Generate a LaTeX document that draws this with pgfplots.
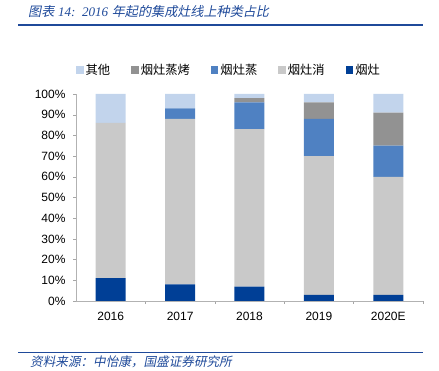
\documentclass[border=0pt]{standalone}
\usepackage{fontspec}
\setmainfont{Liberation Sans}
\newfontfamily\cjk{Noto Sans CJK SC}
\newfontfamily\cjkit{Noto Sans CJK SC}[FakeSlant=0.2]
\newfontfamily\titlelat{Liberation Serif}
\usepackage{pgfplots}
\pgfplotsset{compat=1.18}
\definecolor{cyz}{HTML}{003F96}
\definecolor{cyzx}{HTML}{C9C9C9}
\definecolor{cyzz}{HTML}{4F81C2}
\definecolor{cyzzk}{HTML}{929292}
\definecolor{cqt}{HTML}{C2D4EC}
\definecolor{titleblue}{HTML}{1F4A9A}
\begin{document}
\begin{tikzpicture}
\useasboundingbox (0,0) rectangle (439pt,371pt);
\node[anchor=west, text=titleblue, font=\fontsize{13.1}{15}\selectfont, inner sep=0pt] at (28pt,359pt) {{\cjkit 图表}\ {\titlelat\itshape 14:\ \ 2016} {\cjkit 年起的集成灶线上种类占比}};
\draw[titleblue, line width=1.5pt] (18pt,346pt) -- (423pt,346pt);
\draw[titleblue, line width=1pt] (18pt,18pt) -- (423pt,18pt);
\node[anchor=west, text=titleblue, font=\cjkit\fontsize{12.6}{14}\selectfont, inner sep=0pt] at (30pt,9pt) {资料来源：中怡康，国盛证券研究所};
\begin{axis}[
  at={(76pt,70pt)}, anchor=south west,
  scale only axis, width=347pt, height=207pt,
  ybar stacked, bar width=30pt,
  xmin=-0.5, xmax=4.5, ymin=0, ymax=100,
  xtick={0,1,2,3,4}, xticklabels={2016,2017,2018,2019,2020E},
  major x tick style={draw=none},
  minor xtick={0.5,1.5,2.5,3.5,4.5},
  minor x tick style={gray!70},
  ytick={0,10,...,100},
  yticklabel={\pgfmathprintnumber{\tick}\%},
  /pgf/number format/assume math mode=true,
  axis x line*=bottom, axis y line*=left,
  axis line style={-, gray!60, line width=0.8pt},
  y tick style={gray!70},
  tick align=outside,
  major tick length=3pt, minor tick length=3pt,
  tick label style={font=\fontsize{12}{14}\selectfont},
  yticklabel style={xshift=-4pt},
  xticklabel style={yshift=-5pt},
  clip=false,
  reverse legend,
  legend columns=5,
  legend style={draw=none, at={(0.441,1.116)}, anchor=center,
    font=\cjk\fontsize{12.3}{14}\selectfont,
    /tikz/every even column/.append style={column sep=19pt}},
  legend image code/.code={\fill[#1] (0pt,-3.75pt) rectangle (7.5pt,3.75pt);},
]
\addplot[fill=cyz, draw=none] coordinates {(0,11) (1,8) (2,7) (3,3) (4,3)};
\addplot[fill=cyzx, draw=none] coordinates {(0,75) (1,80) (2,76) (3,67) (4,57)};
\addplot[fill=cyzz, draw=none] coordinates {(0,0) (1,5) (2,13) (3,18) (4,15)};
\addplot[fill=cyzzk, draw=none] coordinates {(0,0) (1,0) (2,2) (3,8) (4,16)};
\addplot[fill=cqt, draw=none] coordinates {(0,14) (1,7) (2,2) (3,4) (4,9)};
\legend{烟灶,烟灶消,烟灶蒸,烟灶蒸烤,其他}
\end{axis}
\end{tikzpicture}
\end{document}
